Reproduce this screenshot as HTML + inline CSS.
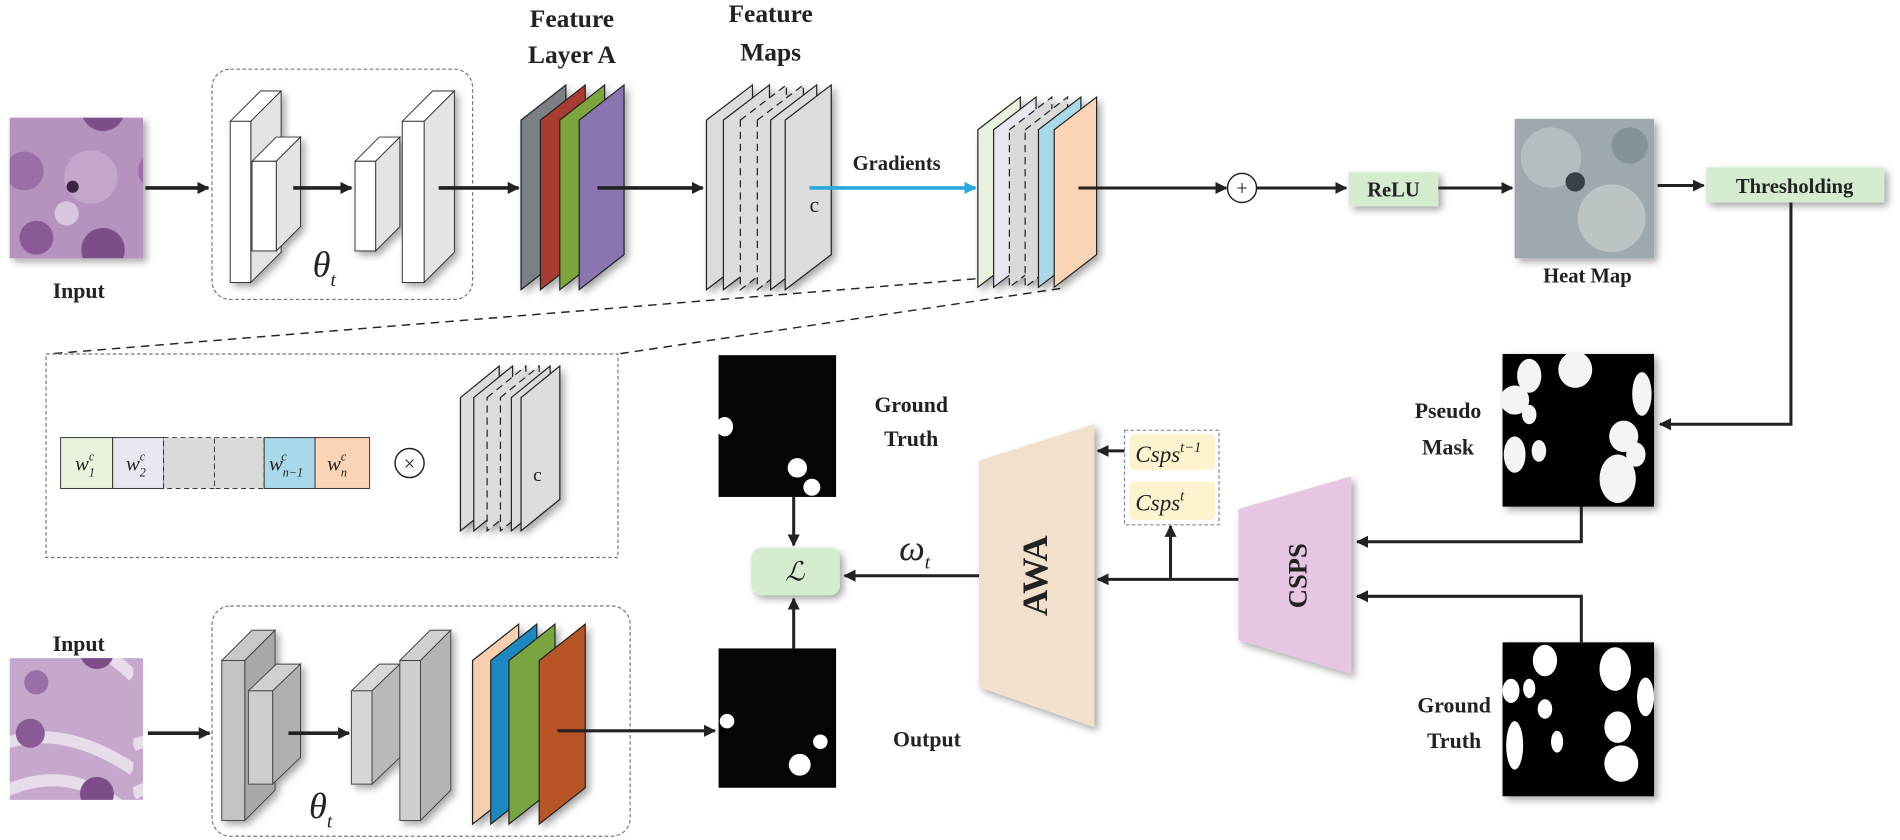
<!DOCTYPE html>
<html><head><meta charset="utf-8"><style>
html,body{margin:0;padding:0;background:#fff;}
svg{display:block;}
text{font-family:"Liberation Serif",serif;fill:#222;}
.b{font-weight:bold;}
</style></head><body>
<svg width="1900" height="840" viewBox="0 0 1568 693" xmlns="http://www.w3.org/2000/svg">
<defs>
<marker id="ar" markerWidth="10" markerHeight="10" refX="9" refY="5" orient="auto" markerUnits="userSpaceOnUse"><path d="M0,0 L10,5 L0,10 z" fill="#222"/></marker>
<marker id="arb" markerWidth="10" markerHeight="10" refX="9" refY="5" orient="auto" markerUnits="userSpaceOnUse"><path d="M0,0 L10,5 L0,10 z" fill="#29a8e0"/></marker>
<filter id="sh" x="-20%" y="-20%" width="150%" height="150%"><feDropShadow dx="3" dy="3" stdDeviation="3" flood-opacity="0.35"/></filter>
<pattern id="path1" width="110" height="116" patternUnits="userSpaceOnUse">
<rect width="110" height="116" fill="#b693bf"/>
<circle cx="20" cy="25" r="16" fill="#9a6ea6"/><circle cx="75" cy="30" r="22" fill="#c4a6cc"/>
<circle cx="30" cy="80" r="14" fill="#8a5a96"/><circle cx="85" cy="90" r="18" fill="#7d4d8a"/>
<circle cx="55" cy="60" r="10" fill="#d9c6df"/><circle cx="60" cy="38" r="5" fill="#3a2040"/>
</pattern>
<pattern id="path2" width="110" height="117" patternUnits="userSpaceOnUse">
<rect width="110" height="117" fill="#c5a8cc"/>
<path d="M0,30 Q50,10 110,50 M0,70 Q60,40 110,90" stroke="#e8dcea" stroke-width="10" fill="none"/>
<circle cx="25" cy="20" r="12" fill="#8a5a96"/><circle cx="80" cy="70" r="14" fill="#7d4d8a"/><circle cx="30" cy="95" r="10" fill="#9a6ea6"/>
</pattern>
</defs>

<!-- top input -->
<rect x="8" y="97" width="110" height="116" fill="url(#path1)" filter="url(#sh)"/>
<text x="65" y="246" font-size="18" class="b" text-anchor="middle">Input</text>
<line x1="120" y1="155" x2="172" y2="155" stroke="#222" stroke-width="3" marker-end="url(#ar)"/>
<rect x="175" y="57" width="215" height="190" rx="15" fill="none" stroke="#777" stroke-dasharray="3,2"/>
<g stroke="#333" stroke-width="0.8" filter="url(#sh)">
<polygon points="190,100 215,75 232,75 207,100" fill="#fff"/><polygon points="207,100 232,75 232,208 207,233" fill="#e4e4e4"/><rect x="190" y="100" width="17" height="133" fill="#fff"/>
<polygon points="208,133 228,113 248,113 228,133" fill="#fff"/><polygon points="228,133 248,113 248,187 228,207" fill="#e4e4e4"/><rect x="208" y="133" width="20" height="74" fill="#fff"/>
<polygon points="293,133 313,113 330,113 310,133" fill="#fff"/><polygon points="310,133 330,113 330,187 310,207" fill="#e4e4e4"/><rect x="293" y="133" width="17" height="74" fill="#fff"/>
<polygon points="332,100 357,75 375,75 350,100" fill="#fff"/><polygon points="350,100 375,75 375,208 350,233" fill="#e4e4e4"/><rect x="332" y="100" width="18" height="133" fill="#fff"/>
</g>
<line x1="242" y1="155" x2="290" y2="155" stroke="#222" stroke-width="3" marker-end="url(#ar)"/>
<text x="258" y="228" font-size="30" font-style="italic">θ<tspan font-size="16" dy="8">t</tspan></text>
<line x1="362" y1="155" x2="428" y2="155" stroke="#222" stroke-width="3" marker-end="url(#ar)"/>

<!-- feature layer A -->
<text x="472" y="22" font-size="21" class="b" text-anchor="middle">Feature</text>
<text x="472" y="52" font-size="21" class="b" text-anchor="middle">Layer A</text>
<g stroke="#222" stroke-width="1" filter="url(#sh)">
<polygon points="430,99 467,70 467,210 430,239" fill="#7c7f83"/>
<polygon points="446,99 483,70 483,210 446,239" fill="#a83a32"/>
<polygon points="462,99 499,70 499,210 462,239" fill="#7ba53e"/>
<polygon points="478,99 515,70 515,210 478,239" fill="#8b74b0"/>
</g>
<line x1="493" y1="155" x2="580" y2="155" stroke="#222" stroke-width="3" marker-end="url(#ar)"/>

<!-- feature maps -->
<text x="636" y="18" font-size="21" class="b" text-anchor="middle">Feature</text>
<text x="636" y="50" font-size="21" class="b" text-anchor="middle">Maps</text>
<g stroke="#222" stroke-width="1" fill="#dcdcdc" filter="url(#sh)">
<polygon points="583,99 621,70 621,210 583,239"/>
<polygon points="597,99 635,70 635,210 597,239"/>
<polygon points="611,99 649,70 649,210 611,239" stroke-dasharray="6,4"/>
<polygon points="625,99 663,70 663,210 625,239" stroke-dasharray="6,4"/>
<polygon points="636,99 674,70 674,210 636,239"/>
<polygon points="648,99 686,70 686,210 648,239"/>
</g>
<text x="668" y="175" font-size="18">c</text>
<line x1="668" y1="155" x2="805" y2="155" stroke="#29a8e0" stroke-width="3" marker-end="url(#arb)"/>
<text x="740" y="140" font-size="17" class="b" text-anchor="middle">Gradients</text>

<!-- weighted sheets -->
<g stroke="#222" stroke-width="1" filter="url(#sh)">
<polygon points="807,107 842,80 842,210 807,237" fill="#e9f2dd"/>
<polygon points="820,107 855,80 855,210 820,237" fill="#e8e6f1"/>
<polygon points="833,107 868,80 868,210 833,237" fill="#dadada" stroke-dasharray="6,4"/>
<polygon points="846,107 881,80 881,210 846,237" fill="#dadada" stroke-dasharray="6,4"/>
<polygon points="857,107 892,80 892,210 857,237" fill="#a9d8e8"/>
<polygon points="870,107 905,80 905,210 870,237" fill="#fbd4b6"/>
</g>
<line x1="890" y1="155" x2="1012" y2="155" stroke="#222" stroke-width="2.5" marker-end="url(#ar)"/>
<circle cx="1025" cy="155" r="12" fill="#fff" stroke="#222" stroke-width="1.2"/>
<text x="1025" y="161" font-size="17" text-anchor="middle">+</text>
<line x1="1037" y1="155" x2="1111" y2="155" stroke="#222" stroke-width="2.5" marker-end="url(#ar)"/>
<rect x="1113" y="142" width="74" height="28" fill="#d5ecd1" filter="url(#sh)"/>
<text x="1150" y="162" font-size="17" class="b" text-anchor="middle">ReLU</text>
<line x1="1187" y1="155" x2="1248" y2="155" stroke="#222" stroke-width="2.5" marker-end="url(#ar)"/>
<rect x="1250" y="98" width="115" height="115" fill="#9ea9ae" filter="url(#sh)"/>
<circle cx="1280" cy="130" r="25" fill="#b9c2c4" opacity="0.8"/><circle cx="1330" cy="180" r="28" fill="#c8cfcf" opacity="0.7"/><circle cx="1300" cy="150" r="8" fill="#3a4048"/><circle cx="1345" cy="120" r="15" fill="#86929a"/>
<text x="1310" y="233" font-size="17" class="b" text-anchor="middle">Heat Map</text>
<line x1="1368" y1="153" x2="1406" y2="153" stroke="#222" stroke-width="2.5" marker-end="url(#ar)"/>
<rect x="1408" y="138" width="147" height="29" fill="#d5ecd1" filter="url(#sh)"/>
<text x="1481" y="159" font-size="17" class="b" text-anchor="middle">Thresholding</text>
<polyline points="1478,167 1478,350 1370,350" fill="none" stroke="#222" stroke-width="2.5" marker-end="url(#ar)"/>

<!-- pseudo mask -->
<rect x="1240" y="292" width="125" height="126" fill="#050505" filter="url(#sh)"/>
<g fill="#f4f4f4"><ellipse cx="1262" cy="310" rx="10" ry="14"/><ellipse cx="1300" cy="305" rx="14" ry="15"/><ellipse cx="1250" cy="330" rx="12" ry="12"/><ellipse cx="1355" cy="325" rx="8" ry="18"/><ellipse cx="1262" cy="342" rx="6" ry="8"/><ellipse cx="1340" cy="360" rx="12" ry="13"/><ellipse cx="1250" cy="375" rx="9" ry="15"/><ellipse cx="1270" cy="372" rx="6" ry="9"/><ellipse cx="1335" cy="395" rx="15" ry="20"/><ellipse cx="1350" cy="375" rx="8" ry="10"/></g>
<text x="1195" y="345" font-size="18" class="b" text-anchor="middle">Pseudo</text>
<text x="1195" y="375" font-size="18" class="b" text-anchor="middle">Mask</text>
<polyline points="1305,418 1305,447 1120,447" fill="none" stroke="#222" stroke-width="2.5" marker-end="url(#ar)"/>

<!-- ground truth 2 -->
<rect x="1240" y="530" width="125" height="127" fill="#050505" filter="url(#sh)"/>
<g fill="#fff"><ellipse cx="1275" cy="545" rx="10" ry="13"/><ellipse cx="1333" cy="552" rx="13" ry="18"/><ellipse cx="1247" cy="570" rx="7" ry="10"/><ellipse cx="1262" cy="568" rx="5" ry="8"/><ellipse cx="1358" cy="575" rx="7" ry="16"/><ellipse cx="1275" cy="585" rx="6" ry="8"/><ellipse cx="1335" cy="600" rx="11" ry="13"/><ellipse cx="1250" cy="615" rx="7" ry="20"/><ellipse cx="1285" cy="612" rx="5" ry="9"/><ellipse cx="1338" cy="630" rx="14" ry="15"/></g>
<text x="1200" y="588" font-size="18" class="b" text-anchor="middle">Ground</text>
<text x="1200" y="617" font-size="18" class="b" text-anchor="middle">Truth</text>
<polyline points="1305,530 1305,492 1120,492" fill="none" stroke="#222" stroke-width="2.5" marker-end="url(#ar)"/>

<!-- CSPS -->
<polygon points="1022,420 1115,393 1115,556 1022,528" fill="#e6c6e0" filter="url(#sh)"/>
<text transform="translate(1078,475) rotate(-90)" font-size="22" class="b" text-anchor="middle">CSPS</text>
<line x1="1022" y1="478" x2="906" y2="478" stroke="#222" stroke-width="2.5" marker-end="url(#ar)"/>
<line x1="966" y1="478" x2="966" y2="434" stroke="#222" stroke-width="2.5" marker-end="url(#ar)"/>
<rect x="928" y="355" width="78" height="78" fill="none" stroke="#888" stroke-dasharray="3,2"/>
<rect x="932" y="358" width="71" height="30" rx="5" fill="#fdf3cf"/>
<rect x="932" y="397" width="71" height="32" rx="5" fill="#fdf3cf"/>
<text x="937" y="381" font-size="19" font-style="italic">Csps<tspan font-size="12" dy="-8">t−1</tspan></text>
<text x="937" y="421" font-size="19" font-style="italic">Csps<tspan font-size="12" dy="-8">t</tspan></text>
<line x1="928" y1="372" x2="906" y2="372" stroke="#222" stroke-width="2.5" marker-end="url(#ar)"/>

<!-- AWA -->
<polygon points="808,380 903,350 903,600 808,567" fill="#f1e0cb" filter="url(#sh)"/>
<text transform="translate(864,475) rotate(-90)" font-size="30" class="b" text-anchor="middle">AWA</text>
<line x1="808" y1="475" x2="697" y2="475" stroke="#222" stroke-width="2.5" marker-end="url(#ar)"/>
<text x="742" y="462" font-size="30" font-style="italic">ω<tspan font-size="16" dy="7">t</tspan></text>
<rect x="620" y="452" width="73" height="39" rx="8" fill="#d5ecd1" filter="url(#sh)"/>
<text x="656" y="479" font-size="22" font-style="italic" text-anchor="middle">ℒ</text>

<!-- ground truth 1 -->
<rect x="593" y="293" width="97" height="117" fill="#050505"/>
<g fill="#fff"><ellipse cx="598" cy="352" rx="7" ry="8"/><ellipse cx="658" cy="386" rx="8" ry="8"/><ellipse cx="670" cy="402" rx="7" ry="7"/></g>
<text x="752" y="340" font-size="18" class="b" text-anchor="middle">Ground</text>
<text x="752" y="368" font-size="18" class="b" text-anchor="middle">Truth</text>
<line x1="655" y1="410" x2="655" y2="450" stroke="#222" stroke-width="2.5" marker-end="url(#ar)"/>
<rect x="593" y="535" width="97" height="115" fill="#050505"/>
<g fill="#fff"><ellipse cx="600" cy="595" rx="6" ry="6"/><ellipse cx="660" cy="631" rx="9" ry="9"/><ellipse cx="677" cy="612" rx="6" ry="6"/></g>
<text x="765" y="616" font-size="18" class="b" text-anchor="middle">Output</text>
<line x1="655" y1="535" x2="655" y2="494" stroke="#222" stroke-width="2.5" marker-end="url(#ar)"/>

<!-- zoom detail -->
<line x1="805" y1="230" x2="40" y2="292" stroke="#222" stroke-width="1.2" stroke-dasharray="7,5"/>
<line x1="875" y1="238" x2="510" y2="292" stroke="#222" stroke-width="1.2" stroke-dasharray="7,5"/>
<rect x="38" y="292" width="472" height="168" fill="#fff" stroke="#777" stroke-dasharray="3,2"/>
<g stroke="#333" stroke-width="0.8">
<rect x="50" y="361" width="43" height="42" fill="#e9f2dd"/>
<rect x="93" y="361" width="42" height="42" fill="#e8e6f1"/>
<rect x="135" y="361" width="42" height="42" fill="#dadada" stroke-dasharray="4,3"/>
<rect x="177" y="361" width="41" height="42" fill="#dadada" stroke-dasharray="4,3"/>
<rect x="218" y="361" width="42" height="42" fill="#a9d8e8"/>
<rect x="260" y="361" width="45" height="42" fill="#fbd4b6"/>
</g>
<text x="62" y="388" font-size="17" font-style="italic">w<tspan font-size="10" dy="5">1</tspan><tspan font-size="10" dx="-5" dy="-13">c</tspan></text>
<text x="104" y="388" font-size="17" font-style="italic">w<tspan font-size="10" dy="5">2</tspan><tspan font-size="10" dx="-5" dy="-13">c</tspan></text>
<text x="222" y="388" font-size="17" font-style="italic">w<tspan font-size="10" dy="5">n−1</tspan><tspan font-size="10" dx="-18" dy="-13">c</tspan></text>
<text x="270" y="388" font-size="17" font-style="italic">w<tspan font-size="10" dy="5">n</tspan><tspan font-size="10" dx="-5" dy="-13">c</tspan></text>
<circle cx="338" cy="382" r="12" fill="#fff" stroke="#222" stroke-width="1.2"/>
<text x="338" y="388" font-size="17" text-anchor="middle">×</text>
<g stroke="#222" stroke-width="1" fill="#dcdcdc" filter="url(#sh)">
<polygon points="380,328 412,302 412,412 380,438"/>
<polygon points="391,328 423,302 423,412 391,438"/>
<polygon points="402,328 434,302 434,412 402,438" stroke-dasharray="6,4"/>
<polygon points="413,328 445,302 445,412 413,438" stroke-dasharray="6,4"/>
<polygon points="422,328 454,302 454,412 422,438"/>
<polygon points="430,328 462,302 462,412 430,438"/>
</g>
<text x="440" y="397" font-size="16">c</text>

<!-- bottom branch -->
<rect x="8" y="543" width="110" height="117" fill="url(#path2)"/>
<text x="65" y="537" font-size="18" class="b" text-anchor="middle">Input</text>
<line x1="122" y1="605" x2="173" y2="605" stroke="#222" stroke-width="3" marker-end="url(#ar)"/>
<rect x="175" y="500" width="345" height="190" rx="15" fill="none" stroke="#777" stroke-dasharray="3,2"/>
<g stroke="#444" stroke-width="0.8" filter="url(#sh)">
<polygon points="183,545 208,520 227,520 202,545" fill="#c8c8c8"/><polygon points="202,545 227,520 227,652 202,677" fill="#a8a8a8"/><rect x="183" y="545" width="19" height="132" fill="#c4c4c4"/>
<polygon points="205,570 228,548 248,548 225,570" fill="#d0d0d0"/><polygon points="225,570 248,548 248,625 225,647" fill="#b0b0b0"/><rect x="205" y="570" width="20" height="77" fill="#cdcdcd"/>
<polygon points="290,570 313,548 330,548 307,570" fill="#d8d8d8"/><polygon points="307,570 330,548 330,625 307,647" fill="#b8b8b8"/><rect x="290" y="570" width="17" height="77" fill="#d6d6d6"/>
<polygon points="330,545 355,520 372,520 347,545" fill="#d0d0d0"/><polygon points="347,545 372,520 372,652 347,677" fill="#b4b4b4"/><rect x="330" y="545" width="17" height="132" fill="#cfcfcf"/>
</g>
<line x1="238" y1="605" x2="288" y2="605" stroke="#222" stroke-width="3" marker-end="url(#ar)"/>
<text x="255" y="675" font-size="30" font-style="italic">θ<tspan font-size="16" dy="8">t</tspan></text>
<g stroke="#222" stroke-width="1" filter="url(#sh)">
<polygon points="390,545 428,515 428,650 390,680" fill="#f8cfae"/>
<polygon points="405,545 443,515 443,650 405,680" fill="#1a88c0"/>
<polygon points="420,545 458,515 458,650 420,680" fill="#79a540"/>
<polygon points="445,545 483,515 483,650 445,680" fill="#b85526"/>
</g>
<line x1="460" y1="603" x2="590" y2="603" stroke="#222" stroke-width="2.5" marker-end="url(#ar)"/>
</svg>
</body></html>
